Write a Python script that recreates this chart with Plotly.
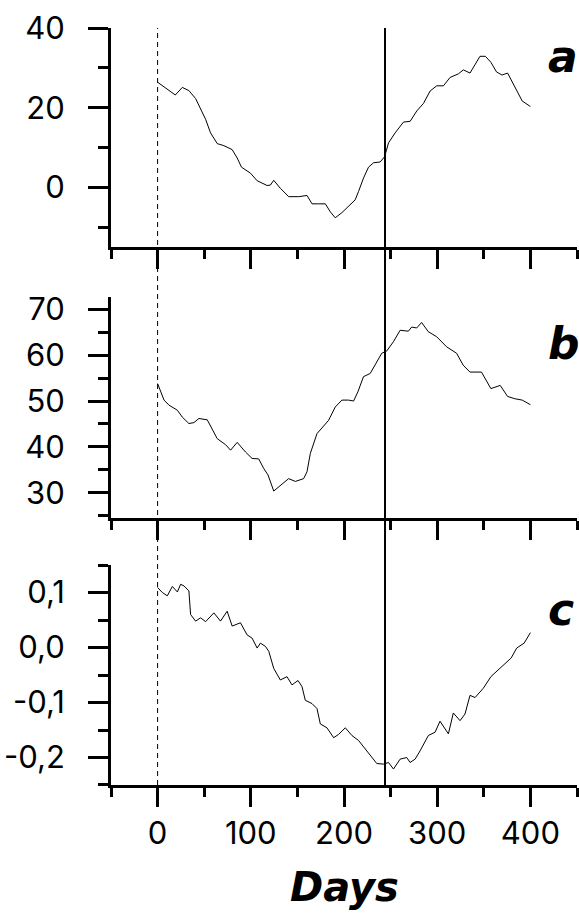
import plotly.graph_objects as go

# ---- data ----
days_a = [0, 10, 19, 26.5, 33.6, 40.8, 46.1, 51.5, 56.8, 64, 71.1, 80, 85.4, 90, 99.6,
          106.8, 117.5, 121, 124.6, 131.7, 140.7, 151.4, 160.3, 165.7, 172.8, 180, 185.3,
          190.6, 197.8, 204.9, 212, 215.6, 221, 226.3, 231.7, 238.8, 243.5, 247.8, 254.9,
          263.8, 271, 278.1, 285.3, 292.4, 299.5, 306.7, 313.8, 322.7, 328.1, 335.2, 340.6,
          345.9, 351.7, 357.6, 363.6, 369.5, 375.5, 383.3, 391.2, 400]
vals_a = [26.4, 24.8, 23.2, 25.1, 24.3, 22.3, 19.6, 17.1, 13.7, 11.0, 10.5, 9.5, 7.4, 5.1, 3.6,
          1.7, 0.5, 0.6, 1.8, -0.2, -2.3, -2.3, -2.0, -4.1, -4.1, -4.1, -6.1,
          -7.6, -6.3, -4.8, -3.1, -1.0, 2.4, 5.1, 6.2, 6.4, 7.7, 11.2, 13.7,
          16.4, 16.6, 19.2, 21.1, 24.2, 25.5, 25.5, 27.6, 28.5, 29.5, 28.7, 31.0,
          32.9, 32.9, 31.4, 29.0, 28.2, 28.7, 25.1, 21.7, 20.3]

days_b = [0, 3.3, 6.9, 12.2, 21.2, 26.5, 33.6, 39, 44.3, 53.3, 58.6, 64, 72.9, 78.3, 85.4,
          94.3, 101.4, 108.5, 113.9, 118.5, 124.6, 133.5, 140.6, 147.8, 156.7, 160.3, 163.9,
          171, 176.3, 183.5, 190.6, 197.8, 204.9, 210.3, 214.9, 220.9, 228.1, 233.4, 240.5,
          245.9, 253, 260.2, 269.1, 272.6, 278, 283.3, 290.4, 299.4, 310.1, 320.8, 327.9,
          335.1, 347.5, 357.6, 367.6, 375.5, 383.3, 391.2, 400]
vals_b = [53.8, 52.0, 50.2, 49.1, 48.0, 46.5, 45.1, 45.3, 46.2, 45.9, 43.7, 41.8, 40.5, 39.3, 41.0,
          38.9, 37.5, 37.4, 35.3, 33.9, 30.4, 32.0, 33.1, 32.5, 33.1, 34.6, 38.6,
          42.9, 44.2, 45.8, 48.7, 50.2, 50.2, 50.0, 52.0, 55.3, 56.0, 58.0, 60.4,
          60.9, 62.9, 65.4, 65.2, 66.1, 65.9, 67.1, 65.1, 64.0, 61.8, 60.4, 57.8,
          56.3, 56.3, 52.7, 53.4, 51.0, 50.5, 50.2, 49.2]

days_c = [0, 5.1, 10.4, 15.8, 21.2, 24.7, 28.3, 33.6, 35.4, 40.8, 46.1, 51.5, 60.4, 67.5, 74.6,
          80, 88.9, 96, 101.4, 106.8, 110.3, 115.7, 119.3, 124.6, 131.7, 138.8, 144.2, 150.6,
          154.9, 158.5, 165.7, 171, 174.6, 181.7, 188.9, 194.2, 201.4, 208.5, 215.6, 222.8,
          228.1, 235.2, 242.4, 247.7, 253.1, 260.2, 267.3, 270.9, 276.3, 281.6, 290.5, 297.7,
          303, 307.7, 312, 317.3, 324.5, 329.8, 335.2, 340.6, 349.5, 357.6, 369.5, 379.4,
          385.3, 393.3, 400]
vals_c = [0.109, 0.100, 0.094, 0.111, 0.101, 0.115, 0.112, 0.103, 0.060, 0.048, 0.054, 0.047,
          0.063, 0.048, 0.066, 0.039, 0.045, 0.023, 0.017, -0.001, 0.008, 0.002, -0.007,
          -0.038, -0.059, -0.053, -0.068, -0.060, -0.071, -0.096, -0.102, -0.111, -0.139,
          -0.146, -0.164, -0.158, -0.146, -0.160, -0.169, -0.185, -0.197, -0.211, -0.212,
          -0.209, -0.221, -0.203, -0.200, -0.209, -0.203, -0.188, -0.160, -0.154, -0.134,
          -0.145, -0.157, -0.119, -0.133, -0.121, -0.087, -0.091, -0.074, -0.053, -0.035,
          -0.019, -0.001, 0.008, 0.027]

x_tickvals = [0, 100, 200, 300, 400]
x_ticktext = ["0", "100", "200", "300", "400"]
a_tickvals = [0, 20, 40]
a_ticktext = ["0", "20", "40"]
b_tickvals = [30, 40, 50, 60, 70]
b_ticktext = ["30", "40", "50", "60", "70"]
c_tickvals = [-0.2, -0.1, 0.0, 0.1]
c_ticktext = ["-0,2", "-0,1", "0,0", "0,1"]
panel_labels = ["a", "b", "c"]
marker_day = 244
start_day = 0

TICKFONT = "Inter, Liberation Sans, Arial, sans-serif"
LABELFONT = "DejaVu Sans, Liberation Sans, Arial, sans-serif"

fig = go.Figure()
fig.add_trace(go.Scatter(x=days_a, y=vals_a, mode="lines", line=dict(color="black", width=1),
                         xaxis="x", yaxis="y", showlegend=False))
fig.add_trace(go.Scatter(x=days_b, y=vals_b, mode="lines", line=dict(color="black", width=1),
                         xaxis="x2", yaxis="y2", showlegend=False))
fig.add_trace(go.Scatter(x=days_c, y=vals_c, mode="lines", line=dict(color="black", width=1),
                         xaxis="x3", yaxis="y3", showlegend=False))

def xax(anchor, show_labels):
    return dict(range=[-50, 450], anchor=anchor, showline=True, linewidth=3, linecolor="black",
                ticks="outside", ticklen=19, tickwidth=3, tickcolor="black",
                tickmode="array", tickvals=x_tickvals, ticktext=x_ticktext,
                showticklabels=show_labels, showgrid=False, zeroline=False,
                minor=dict(ticks="outside", ticklen=9, tickwidth=3, tickcolor="black",
                           tickmode="linear", tick0=-50, dtick=100, showgrid=False),
                tickfont=dict(family=TICKFONT, size=31, color="black"),
                ticklabelstandoff=0)

def yax(anchor, domain, rng, tv, tt, minor_dtick, minor_tick0):
    return dict(domain=domain, range=rng, anchor=anchor, showline=True, linewidth=3,
                linecolor="black", ticks="outside", ticklen=20, tickwidth=3, tickcolor="black",
                tickmode="array", tickvals=tv, ticktext=tt, showgrid=False, zeroline=False,
                minor=dict(ticks="outside", ticklen=10, tickwidth=3, tickcolor="black",
                           tickmode="linear", tick0=minor_tick0, dtick=minor_dtick, showgrid=False),
                tickfont=dict(family=TICKFONT, size=31, color="black"),
                ticklabelstandoff=17)

fig.update_layout(
    width=579, height=913,
    margin=dict(l=111, r=2, t=28, b=128),
    paper_bgcolor="white", plot_bgcolor="white",
    xaxis=xax("y", False),
    xaxis2=xax("y2", False),
    xaxis3=xax("y3", True),
    yaxis=yax("x", [0.7103, 1.0], [-15, 40], a_tickvals, a_ticktext, 20, -10),
    yaxis2=yax("x2", [0.3531, 0.6450], [24.6, 72.7], b_tickvals, b_ticktext, 10, 25),
    yaxis3=yax("x3", [0.0, 0.2906], [-0.25, 0.15], c_tickvals, c_ticktext, 0.1, -0.25),
)

# vertical reference lines spanning all panels
fig.add_shape(type="line", xref="x3", yref="paper", x0=start_day, x1=start_day, y0=0, y1=1,
              line=dict(color="black", width=1, dash="5px,4px"), layer="above")
fig.add_shape(type="line", xref="x3", yref="paper", x0=marker_day, x1=marker_day, y0=0, y1=1,
              line=dict(color="black", width=2), layer="above")

label_y = [0.963, 0.5826, 0.2312]
for lab, yy in zip(panel_labels, label_y):
    fig.add_annotation(text="<b><i>%s</i></b>" % lab, xref="paper", yref="paper",
                       x=0.9335, y=yy, xanchor="left", yanchor="middle", showarrow=False,
                       font=dict(family=LABELFONT, size=44, color="black"))

fig.add_annotation(text="<b><i>Days</i></b>", xref="paper", yref="paper", x=0.5, y=-0.1678,
                   xanchor="center", yanchor="bottom", showarrow=False,
                   font=dict(family=LABELFONT, size=40, color="black"))

fig.write_html("out.html", config={"displayModeBar": False},
               post_script="document.body.style.margin='0';")
